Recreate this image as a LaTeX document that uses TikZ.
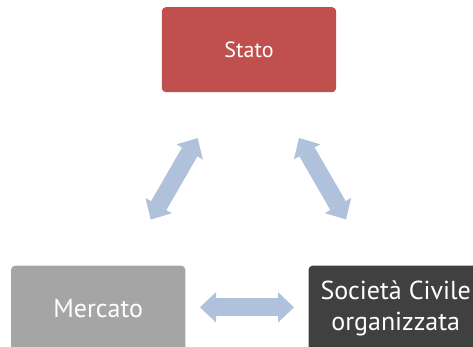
\documentclass[tikz,border=0pt]{standalone}
\usepackage{fontspec}
\setmainfont{PT Sans}
\usetikzlibrary{arrows.meta}
\definecolor{statored}{HTML}{C0504D}
\definecolor{mercatogray}{HTML}{A5A5A5}
\definecolor{civiledark}{HTML}{404040}
\definecolor{linkblue}{HTML}{B0C1DC}
\tikzset{
	box/.style={rounded corners=4pt, minimum width=174.3pt, minimum height=85pt, inner sep=0pt, text=white, align=center},
	link/.style={linkblue, line width=17.7pt, >={Triangle[width=30.4pt,length=16pt,line width=0pt]}, <->}
}

\begin{document}
\begin{tikzpicture}[x=1pt, y=-1pt]
			%%%%% START %%%%%
			
			\useasboundingbox (0, 0) rectangle (473, 346);
			
			\node[box, fill=statored, font=\fontsize{22}{26}\selectfont] (stato) at (249, 49.7) {Stato};
			\node[box, fill=mercatogray, font=\fontsize{26}{30.6}\selectfont] (mercato) at (98.2, 308.2) {Mercato};
			\node[box, fill=civiledark, font=\fontsize{26}{30.6}\selectfont] (civile) at (395.7, 308.2) {Società Civile\\organizzata};
			
			\coordinate (ms1) at (150.7, 219.5);
			\coordinate (ms2) at (197.7, 138.1);
			\coordinate (sc1) at (299, 138);
			\coordinate (sc2) at (346, 219.4);
			\coordinate (mc1) at (200, 307.3);
			\coordinate (mc2) at (294, 307.3);
			
			\draw[link] (ms1) -- (ms2);
			\draw[link] (sc1) -- (sc2);
			\draw[link] (mc1) -- (mc2);
			
			%%%%% END %%%%%
		\end{tikzpicture}
\end{document}
